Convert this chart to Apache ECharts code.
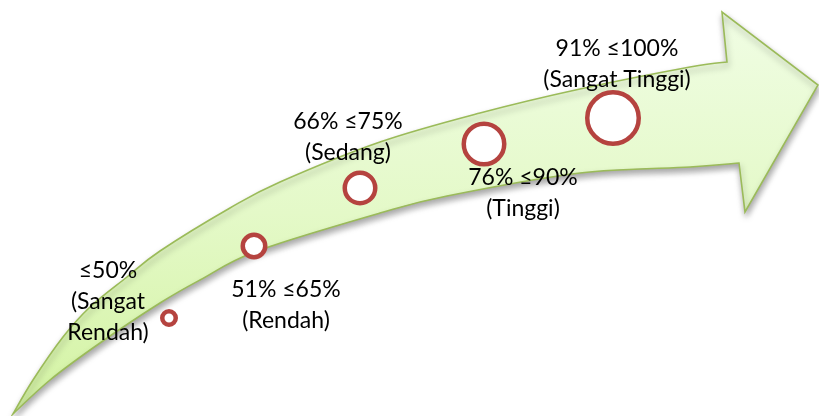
<!DOCTYPE html>
<html>
<head>
<meta charset="utf-8">
<script src="https://cdn.jsdelivr.net/npm/echarts@6/dist/echarts.min.js"></script>
<style>html,body{margin:0;padding:0;background:#fff;}#chart{width:819px;height:416px;}</style>
</head>
<body>
<div id="chart"></div>
<script>
// Level labels
const categories = ['≤50%\n(Sangat\nRendah)', '51% ≤65%\n(Rendah)', '66% ≤75%\n(Sedang)', '76% ≤90%\n(Tinggi)', '91% ≤100%\n(Sangat Tinggi)'];
// Circle centres (axis units) and outer diameters
const circleX = [169, 254, 360, 484, 613];
const circleY = [318, 246, 188, 144, 118];
const circleSize = [18, 27, 35, 45, 56];
// Arrow outline (decoration)
const arrowUpperX = [13, 33, 63, 90, 127, 160, 230, 280, 380, 480, 580, 690, 727];
const arrowUpperY = [414, 380, 337, 307, 277, 251, 208, 182, 142, 113, 89, 67, 62];
const arrowHeadX = [722, 818, 745, 739];
const arrowHeadY = [12, 85, 212, 163];
const arrowLowerX = [739, 690, 580, 447, 380, 257, 200, 160, 100, 50, 13];
const arrowLowerY = [163, 167, 173, 196, 213, 251, 280, 303, 343, 380, 414];

const labelOffsets = [[-61, -16], [32, 59], [-12, -51], [39, 49], [4, -54]];

function catmull(pts) {
  let d = '';
  for (let i = 0; i < pts.length - 1; i++) {
    const p0 = pts[Math.max(0, i - 1)], p1 = pts[i], p2 = pts[i + 1], p3 = pts[Math.min(pts.length - 1, i + 2)];
    const c1 = [p1[0] + (p2[0] - p0[0]) / 6, p1[1] + (p2[1] - p0[1]) / 6];
    const c2 = [p2[0] - (p3[0] - p1[0]) / 6, p2[1] - (p3[1] - p1[1]) / 6];
    d += ' C' + c1[0] + ' ' + c1[1] + ' ' + c2[0] + ' ' + c2[1] + ' ' + p2[0] + ' ' + p2[1];
  }
  return d;
}

const chart = echarts.init(document.getElementById('chart'));
chart.setOption({
  animation: false,
  grid: { left: 0, right: 0, top: 0, bottom: 0 },
  xAxis: { type: 'value', min: 0, max: 819, show: false },
  yAxis: { type: 'value', min: 0, max: 416, inverse: true, show: false },
  series: [
    {
      type: 'custom',
      silent: true,
      z: 1,
      data: [[0, 0]],
      renderItem: function (params, api) {
        const up = arrowUpperX.map((x, i) => api.coord([x, arrowUpperY[i]]));
        const head = arrowHeadX.map((x, i) => api.coord([x, arrowHeadY[i]]));
        const low = arrowLowerX.map((x, i) => api.coord([x, arrowLowerY[i]]));
        let d = 'M' + up[0][0] + ' ' + up[0][1] + catmull(up);
        head.forEach(p => { d += ' L' + p[0] + ' ' + p[1]; });
        d += catmull(low) + ' Z';
        return {
          type: 'path',
          shape: { pathData: d },
          style: {
            fill: new echarts.graphic.LinearGradient(0, 0, 0, 1, [
              { offset: 0, color: '#f0fde4' },
              { offset: 0.5, color: '#e4f9c8' },
              { offset: 1, color: '#d3f3a2' }
            ]),
            stroke: '#9bbb59',
            lineWidth: 1.6,
            shadowBlur: 6,
            shadowOffsetY: 4,
            shadowOffsetX: 1,
            shadowColor: 'rgba(0,0,0,0.35)'
          }
        };
      }
    },
    {
      type: 'scatter',
      z: 3,
      symbol: 'circle',
      itemStyle: { color: '#ffffff', borderColor: '#b5433f', borderWidth: 4.5, opacity: 1 },
      label: {
        show: true,
        position: 'inside',
        fontFamily: 'Lato',
        fontSize: 23,
        lineHeight: 31,
        color: '#000000',
        align: 'center',
        verticalAlign: 'middle',
        formatter: p => categories[p.dataIndex]
      },
      data: circleX.map((x, i) => ({
        value: [x, circleY[i]],
        symbolSize: circleSize[i] - 4.5,
        label: { offset: labelOffsets[i] }
      }))
    }
  ]
});
</script>
</body>
</html>
